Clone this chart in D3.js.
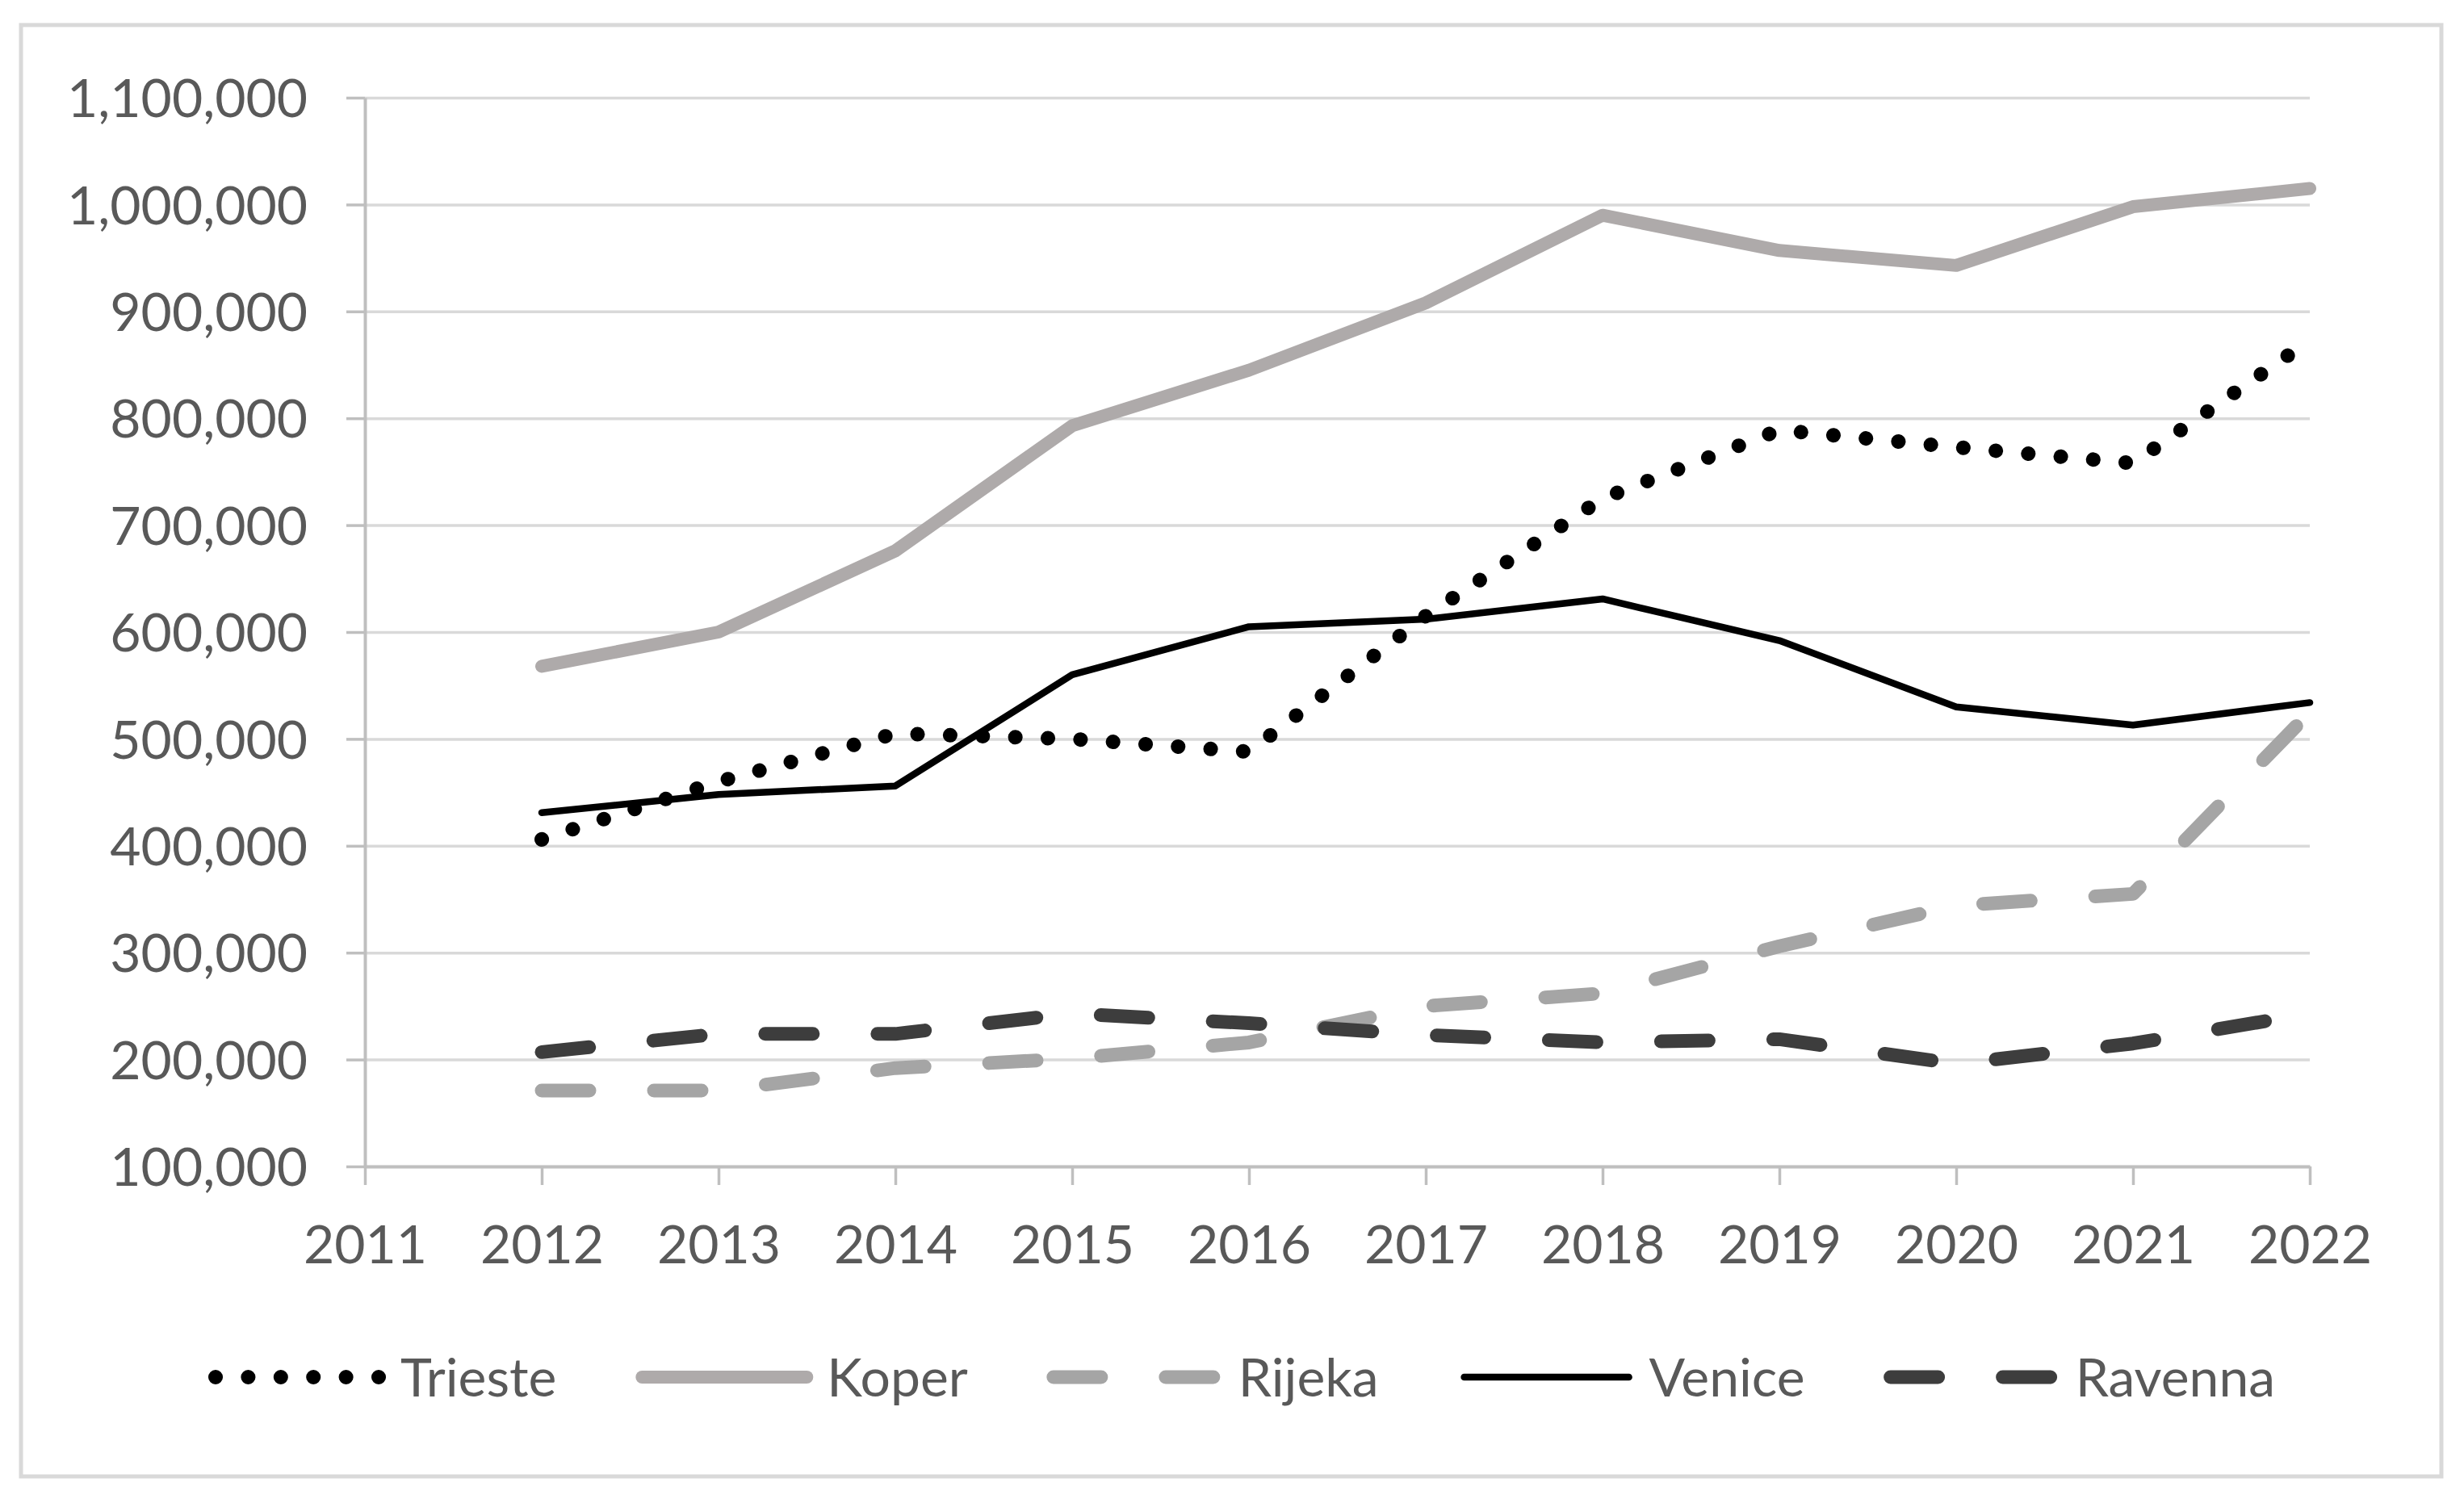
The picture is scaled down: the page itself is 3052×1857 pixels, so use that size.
<!DOCTYPE html>
<html>
<head>
<meta charset="utf-8">
<script src="https://cdn.jsdelivr.net/npm/d3@7"></script>
<style>
  html, body { margin: 0; padding: 0; background: #ffffff; }
  svg { display: block; }
</style>
</head>
<body>
<svg id="chart" width="3052" height="1857"></svg>
<script>
// ---- data ----
const years = [2012, 2013, 2014, 2015, 2016, 2017, 2018, 2019, 2020, 2021, 2022];
const xTickLabels = [2011, 2012, 2013, 2014, 2015, 2016, 2017, 2018, 2019, 2020, 2021, 2022];
const yTickValues = [100000, 200000, 300000, 400000, 500000, 600000, 700000, 800000, 900000, 1000000, 1100000];
const seriesNames = ["Trieste", "Koper", "Rijeka", "Venice", "Ravenna"];
const trieste = [406000, 460000, 505000, 500000, 488000, 615000, 725000, 789000, 773000, 758000, 873000];
const koper   = [568000, 600000, 676000, 793000, 845000, 908000, 990000, 957000, 943000, 998000, 1015000];
const rijeka  = [171000, 171000, 192000, 201000, 216000, 250000, 262000, 306000, 344000, 355000, 525000];
const venice  = [431000, 448000, 456000, 560000, 605000, 612000, 631000, 592000, 530000, 513000, 534000];
const ravenna = [207000, 224000, 224000, 243000, 234000, 223000, 216000, 219000, 196000, 215000, 243000];

// ---- styles ----
const styles = {
  Trieste: { color: "#000000", width: 18, dash: "0.1 40.3" },
  Koper:   { color: "#aeaaaa", width: 16, dash: null },
  Rijeka:  { color: "#a5a5a5", width: 17, dash: "59 80" },
  Venice:  { color: "#000000", width: 8.5, dash: null },
  Ravenna: { color: "#3d3d3d", width: 17, dash: "59 80" }
};
const seriesValues = { Trieste: trieste, Koper: koper, Rijeka: rijeka, Venice: venice, Ravenna: ravenna };

const FONT = "Lato, 'Liberation Sans', Arial, sans-serif";
const TEXT_COLOR = "#595959";
const FONT_SIZE = 66;

const svg = d3.select("#chart");
svg.append("rect").attr("x", 0).attr("y", 0).attr("width", 3052).attr("height", 1857).attr("fill", "#ffffff");

// outer frame
svg.append("rect")
  .attr("x", 26).attr("y", 31).attr("width", 2998).attr("height", 1798)
  .attr("fill", "none").attr("stroke", "#d9d9d9").attr("stroke-width", 5);

const pLeft = 452, pRight = 2861, pTop = 121, pBottom = 1445;
const x = d3.scaleLinear().domain([2011, 2022]).range([pLeft, pRight]);
const y = d3.scaleLinear().domain([100000, 1100000]).range([pBottom, pTop]);

// gridlines
const grid = svg.append("g").attr("transform", `translate(${pLeft},0)`)
  .call(d3.axisLeft(y).tickValues(yTickValues).tickSize(-(pRight - pLeft)).tickFormat(""));
grid.select(".domain").remove();
grid.selectAll(".tick line").attr("stroke", "#d9d9d9").attr("stroke-width", 3.5);

// y axis
const yAxis = svg.append("g").attr("transform", `translate(${pLeft},0)`)
  .call(d3.axisLeft(y).tickValues(yTickValues).tickSizeInner(23).tickSizeOuter(0).tickPadding(48).tickFormat(d3.format(",")));
yAxis.select(".domain").attr("stroke", "#bfbfbf").attr("stroke-width", 4);
yAxis.selectAll(".tick line").attr("stroke", "#bfbfbf").attr("stroke-width", 3.5);
yAxis.selectAll(".tick text")
  .attr("font-family", FONT).attr("font-size", FONT_SIZE).attr("fill", TEXT_COLOR)
  .attr("dy", "0.36em");

// x axis
const xAxis = svg.append("g").attr("transform", `translate(0,${pBottom})`)
  .call(d3.axisBottom(x).tickValues(xTickLabels).tickSizeInner(23).tickSizeOuter(0).tickPadding(0).tickFormat(d3.format("d")));
xAxis.select(".domain").attr("stroke", "#bfbfbf").attr("stroke-width", 4);
xAxis.selectAll(".tick line").attr("stroke", "#bfbfbf").attr("stroke-width", 3.5);
xAxis.selectAll(".tick text")
  .attr("font-family", FONT).attr("font-size", FONT_SIZE).attr("fill", TEXT_COLOR)
  .attr("y", 120).attr("dy", 0);

// lines
const line = d3.line().x((d, i) => x(years[i])).y(d => y(d));
seriesNames.forEach(name => {
  const s = styles[name];
  const p = svg.append("path")
    .datum(seriesValues[name])
    .attr("d", line)
    .attr("fill", "none")
    .attr("stroke", s.color)
    .attr("stroke-width", s.width)
    .attr("stroke-linecap", "round")
    .attr("stroke-linejoin", "round");
  if (s.dash) p.attr("stroke-dasharray", s.dash);
});

// legend
const legY = 1706;
const symLen = 204;
const itemGap = 97;
const legend = svg.append("g");
let cursor = 0;
seriesNames.forEach(name => {
  const s = styles[name];
  const g = legend.append("g");
  const ln = g.append("line")
    .attr("x1", cursor + 9).attr("x2", cursor + 9 + symLen)
    .attr("y1", legY).attr("y2", legY)
    .attr("stroke", s.color).attr("stroke-width", s.width)
    .attr("stroke-linecap", "round");
  if (s.dash) ln.attr("stroke-dasharray", s.dash);
  const t = g.append("text")
    .attr("x", cursor + 238).attr("y", legY + 24)
    .attr("font-family", FONT).attr("font-size", FONT_SIZE).attr("fill", TEXT_COLOR)
    .text(name);
  const w = t.node().getComputedTextLength();
  cursor += 238 + w + itemGap;
});
const totalW = cursor - itemGap;
legend.attr("transform", `translate(${1538 - totalW / 2},0)`);
</script>
</body>
</html>
